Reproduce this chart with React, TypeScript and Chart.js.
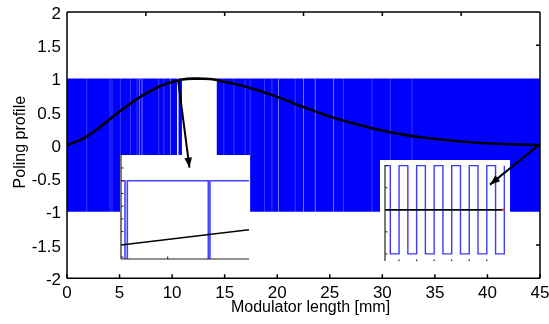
import React, { useEffect, useRef } from 'react';
import { Chart, registerables } from 'chart.js';

Chart.register(...registerables);

const FONT = "'Liberation Sans', Arial, Helvetica, sans-serif";

// ---------- main axes ----------
const X_RANGE = [0, 45];
const Y_RANGE = [-2, 2];
const X_STEP = 5;
const Y_STEP = 0.5;
const bottomTickValues = [0, 5, 10, 15, 20, 25, 30, 35, 40, 45];
const topTickValues = [7.5, 15, 22.5, 30, 37.5];
const rightTickValues = [-1.5, 0, 1.5];
const xTitle = 'Modulator length [mm]';
const yTitle = 'Poling profile';

// ---------- smooth target profile (black curve) ----------
const profileX = [0, 1, 2, 3, 4, 5, 6, 7, 8, 9, 10, 11, 12, 12.5, 13, 14, 15, 16, 17, 18, 19, 20, 21, 22, 23, 24, 25, 26, 27, 28, 29, 30, 31, 32, 33, 34, 35, 36, 37, 38, 39, 40, 41, 42, 43, 44, 45];
const profileY = [0, 0.06, 0.14, 0.255, 0.38, 0.505, 0.62, 0.73, 0.82, 0.895, 0.95, 0.987, 0.999, 1.0, 0.998, 0.985, 0.95, 0.918, 0.877, 0.832, 0.78, 0.725, 0.665, 0.6, 0.545, 0.485, 0.43, 0.38, 0.335, 0.295, 0.255, 0.22, 0.185, 0.158, 0.132, 0.112, 0.095, 0.078, 0.062, 0.048, 0.037, 0.028, 0.02, 0.014, 0.009, 0.005, 0.002];

// ---------- poling (dense square wave, rendered as a band) ----------
const poledSpan = [0, 45];
const poledLevels = [-1, 1];
const gapSpan = [10.92, 14.26];
const whiteLines = [10.54];
const paleLines = [6.89, 7.14, 9.84, 20.12, 22.5, 23.62, 25.36];
const faintLines = [1.87, 4.1, 4.29, 5.08, 6.03, 6.67, 8.73, 9.21, 14.92, 15.88, 16.95, 17.43, 18.79, 19.5, 21.71, 26.3, 29.02, 30.76, 32.83];

// ---------- arrows ----------
const arrowLeftX = [10.57, 11.65];
const arrowLeftY = [0.976, -0.338];
const arrowRightX = [44.86, 40.24];
const arrowRightY = [0, -0.593];

// ---------- inset A (zoom near the peak) ----------
const insetAXRange = [-4.67, 8.13];
const insetAYRange = [0.877, 1.0404];
const insetAEdges = [-4.67, -4.27, -4.04, 4.06, 4.23, 8.13];
const insetALevels = [1, -1, 1, -1, 1, 1];
const insetALineX = [-4.67, 8.13];
const insetALineY = [0.899, 0.923];
const insetAYTicks = [0.88, 0.9, 0.92, 0.94, 0.96, 0.98, 1, 1.02];
const insetAXTicks = [0];

// ---------- inset B (zoom near the end) ----------
const insetBXRange = [-0.604, 13.075];
const insetBYRange = [-1.161, 1.015];
const insetBEdges = [-0.604, 0, 1, 2, 3, 4, 5, 6, 7, 8, 9, 10, 11, 12, 13];
const insetBLevels = [1, -1, 1, -1, 1, -1, 1, -1, 1, -1, 1, -1, 1, -1, 1];
const insetBLineX = [-0.604, 12.85];
const insetBLineY = [0, 0];
const insetBDotX = [12.85];
const insetBDotY = [0];
const insetBYTicks = [-1, -0.5, 0, 0.5, 1];
const insetBXTicks = [1, 3, 5, 7, 9, 11];

const zip = (xs: number[], ys: number[]) => xs.map((x, i) => ({ x, y: ys[i] }));
const vlines = (xs: number[], lo: number, hi: number) =>
  xs.flatMap((x) => [{ x, y: lo }, { x, y: hi }, { x, y: null as any }]);

type TickSpec = { side: 'left' | 'right' | 'top' | 'bottom'; values: number[]; len: number; width?: number; color?: string };
type FrameSpec = { background?: boolean; lines: string[]; lineWidth: number; color: string; ticks: TickSpec[] };

function makeFrame(spec: FrameSpec) {
  return {
    id: 'frame',
    beforeDraw(chart: any) {
      if (!spec.background) return;
      const { ctx, width, height } = chart;
      ctx.save();
      ctx.fillStyle = '#ffffff';
      ctx.fillRect(0, 0, width, height);
      ctx.restore();
    },
    afterDatasetsDraw(chart: any) {
      const { ctx, chartArea: a, scales } = chart;
      ctx.save();
      ctx.strokeStyle = spec.color;
      ctx.lineWidth = spec.lineWidth;
      ctx.beginPath();
      for (const s of spec.lines) {
        if (s === 'left') { ctx.moveTo(a.left, a.top); ctx.lineTo(a.left, a.bottom); }
        if (s === 'right') { ctx.moveTo(a.right, a.top); ctx.lineTo(a.right, a.bottom); }
        if (s === 'top') { ctx.moveTo(a.left, a.top); ctx.lineTo(a.right, a.top); }
        if (s === 'bottom') { ctx.moveTo(a.left, a.bottom); ctx.lineTo(a.right, a.bottom); }
      }
      ctx.stroke();
      for (const t of spec.ticks) {
        ctx.beginPath();
        ctx.lineWidth = t.width ?? spec.lineWidth;
        ctx.strokeStyle = t.color ?? spec.color;
        for (const v of t.values) {
          if (t.side === 'bottom' || t.side === 'top') {
            const px = scales.x.getPixelForValue(v);
            const y0 = t.side === 'bottom' ? a.bottom : a.top;
            const dir = t.side === 'bottom' ? -1 : 1;
            ctx.moveTo(px, y0);
            ctx.lineTo(px, y0 + dir * t.len);
          } else {
            const py = scales.y.getPixelForValue(v);
            const x0 = t.side === 'left' ? a.left : a.right;
            const dir = t.side === 'left' ? 1 : -1;
            ctx.moveTo(x0, py);
            ctx.lineTo(x0 + dir * t.len, py);
          }
        }
        ctx.stroke();
      }
      ctx.restore();
    },
  };
}

// axis titles placed like the original (x title sits right of the plot centre)
const axisTitles = {
  id: 'axisTitles',
  afterDraw(chart: any) {
    const { ctx, chartArea: a } = chart;
    ctx.save();
    ctx.fillStyle = '#000';
    ctx.font = `16px ${FONT}`;
    ctx.textAlign = 'center';
    ctx.textBaseline = 'middle';
    ctx.fillText(xTitle, (a.left + a.right) / 2 + 7, a.bottom + 29.5);
    ctx.translate(a.left - 46, (a.top + a.bottom) / 2 - 3);
    ctx.rotate(-Math.PI / 2);
    ctx.fillText(yTitle, 0, 0);
    ctx.restore();
  },
};

const arrowHeads = {
  id: 'arrowHeads',
  afterDatasetsDraw(chart: any) {
    const { ctx } = chart;
    chart.data.datasets.forEach((_d: any, i: number) => {
      const pts = chart.getDatasetMeta(i).data;
      if (pts.length < 2) return;
      const p = pts[pts.length - 2];
      const q = pts[pts.length - 1];
      const ang = Math.atan2(q.y - p.y, q.x - p.x);
      const L = 10, W = 3.8;
      ctx.save();
      ctx.fillStyle = '#000';
      ctx.translate(q.x, q.y);
      ctx.rotate(ang);
      ctx.beginPath();
      ctx.moveTo(0, 0);
      ctx.lineTo(-L, -W);
      ctx.lineTo(-L, W);
      ctx.closePath();
      ctx.fill();
      ctx.restore();
    });
  },
};

function mainScales(color: string) {
  return {
    x: {
      type: 'linear' as const,
      min: X_RANGE[0],
      max: X_RANGE[1],
      position: 'bottom' as const,
      ticks: { stepSize: X_STEP, color, font: { family: FONT, size: 17 }, padding: 5, maxRotation: 0, autoSkip: false, callback: (v: any) => `${v}` },
      grid: { display: false, drawTicks: false },
      border: { display: false },
      title: { display: false },
      afterFit: (s: any) => { s.height = 45.7; s.paddingLeft = 0; s.paddingRight = 9; },
    },
    y: {
      type: 'linear' as const,
      min: Y_RANGE[0],
      max: Y_RANGE[1],
      ticks: { stepSize: Y_STEP, color, font: { family: FONT, size: 17 }, padding: 6, labelOffset: 2, callback: (v: any) => `${v}` },
      grid: { display: false, drawTicks: false },
      border: { display: false },
      title: { display: false },
      afterFit: (s: any) => { s.width = 67; s.paddingTop = 12; s.paddingBottom = 0; },
    },
  };
}

const baseOptions = {
  responsive: false,
  animation: false as const,
  events: [] as any[],
  plugins: { legend: { display: false }, tooltip: { enabled: false } },
};

function insetScales(xr: number[], yr: number[]) {
  return {
    x: { type: 'linear' as const, min: xr[0], max: xr[1], display: false },
    y: { type: 'linear' as const, min: yr[0], max: yr[1], display: false },
  };
}

export default function App() {
  const mainRef = useRef<HTMLCanvasElement>(null);
  const insetARef = useRef<HTMLCanvasElement>(null);
  const insetBRef = useRef<HTMLCanvasElement>(null);
  const overlayRef = useRef<HTMLCanvasElement>(null);

  useEffect(() => {
    const charts: Chart[] = [];
    const mainLayout = { padding: { top: 0, right: 0, left: 0, bottom: 0 } };

    charts.push(new Chart(mainRef.current!, {
      type: 'line',
      data: {
        datasets: [
          { data: zip(profileX, profileY), borderColor: '#000', borderWidth: 2.6, pointRadius: 0, cubicInterpolationMode: 'monotone', fill: false },
          { data: vlines(whiteLines, poledLevels[0], poledLevels[1]), borderColor: '#ffffff', borderWidth: 1.5, pointRadius: 0, fill: false, spanGaps: false },
          { data: vlines(paleLines, poledLevels[0], poledLevels[1]), borderColor: 'rgba(255,255,255,0.45)', borderWidth: 1, pointRadius: 0, fill: false, spanGaps: false },
          { data: vlines(faintLines, poledLevels[0], poledLevels[1]), borderColor: 'rgba(255,255,255,0.22)', borderWidth: 1, pointRadius: 0, fill: false, spanGaps: false },
          { data: zip(gapSpan, [poledLevels[1], poledLevels[1]]), borderColor: 'rgba(0,0,0,0)', borderWidth: 0, pointRadius: 0, backgroundColor: '#ffffff', fill: { value: poledLevels[0] } },
          { data: zip(poledSpan, [poledLevels[1], poledLevels[1]]), borderColor: 'rgba(0,0,0,0)', borderWidth: 0, pointRadius: 0, backgroundColor: '#0000ff', fill: { value: poledLevels[0] } },
        ] as any,
      },
      options: { ...baseOptions, layout: mainLayout, scales: mainScales('#000') } as any,
      plugins: [makeFrame({
        background: true, lines: ['left', 'right', 'top', 'bottom'], lineWidth: 1.5, color: '#000',
        ticks: [
          { side: 'bottom', values: bottomTickValues, len: 4 },
          { side: 'top', values: topTickValues, len: 4 },
          { side: 'right', values: rightTickValues, len: 4 },
        ],
      }), axisTitles],
    }));

    charts.push(new Chart(insetARef.current!, {
      type: 'line',
      data: {
        datasets: [
          { data: zip(insetALineX, insetALineY), borderColor: '#000', borderWidth: 1.6, pointRadius: 0, fill: false },
          { data: zip(insetAEdges, insetALevels), borderColor: '#4444ff', borderWidth: 1.6, pointRadius: 0, fill: false, stepped: 'before' },
        ] as any,
      },
      options: { ...baseOptions, layout: { padding: { left: 1, top: 0, right: 1, bottom: 1 } }, scales: insetScales(insetAXRange, insetAYRange) } as any,
      plugins: [makeFrame({
        background: true, lines: ['left', 'bottom'], lineWidth: 1.2, color: '#222',
        ticks: [
          { side: 'left', values: insetAYTicks, len: 2.5, width: 1 },
          { side: 'bottom', values: insetAXTicks, len: 2.5, width: 1 },
        ],
      })],
    }));

    charts.push(new Chart(insetBRef.current!, {
      type: 'line',
      data: {
        datasets: [
          { data: zip(insetBDotX, insetBDotY), borderColor: '#e04040', backgroundColor: '#e04040', pointRadius: 1, showLine: false },
          { data: zip(insetBLineX, insetBLineY), borderColor: '#000', borderWidth: 1.8, pointRadius: 0, fill: false },
          { data: zip(insetBEdges, insetBLevels), borderColor: '#3c3cff', borderWidth: 1.4, pointRadius: 0, fill: false, stepped: 'before' },
        ] as any,
      },
      options: { ...baseOptions, layout: { padding: { left: 1, top: 1, right: 0, bottom: 1 } }, scales: insetScales(insetBXRange, insetBYRange) } as any,
      plugins: [makeFrame({
        background: true, lines: ['left'], lineWidth: 1.2, color: '#222',
        ticks: [
          { side: 'left', values: insetBYTicks, len: 2.5, width: 1 },
          { side: 'bottom', values: insetBXTicks, len: 1.5, width: 1.2 },
        ],
      })],
    }));

    charts.push(new Chart(overlayRef.current!, {
      type: 'line',
      data: {
        datasets: [
          { data: zip(arrowLeftX, arrowLeftY), borderColor: '#000', borderWidth: 2, pointRadius: 0, fill: false, clip: false },
          { data: zip(arrowRightX, arrowRightY), borderColor: '#000', borderWidth: 2, pointRadius: 0, fill: false, clip: false },
        ] as any,
      },
      options: { ...baseOptions, layout: mainLayout, scales: mainScales('rgba(0,0,0,0)') } as any,
      plugins: [arrowHeads],
    }));

    return () => { charts.forEach((c) => c.destroy()); };
  }, []);

  const abs = (l: number, t: number, w: number, h: number): React.CSSProperties => ({ position: 'absolute', left: l, top: t, width: w, height: h, display: 'block' });

  return (
    <div style={{ position: 'absolute', left: 0, top: 0, width: 549, height: 324, background: '#fff', overflow: 'hidden' }}>
      <canvas ref={mainRef} width={549} height={324} style={abs(0, 0, 549, 324)} />
      <canvas ref={insetARef} width={130} height={105} style={abs(120, 155, 130, 105)} />
      <canvas ref={insetBRef} width={130} height={106} style={abs(380, 160, 130, 106)} />
      <canvas ref={overlayRef} width={549} height={324} style={abs(0, 0, 549, 324)} />
    </div>
  );
}
